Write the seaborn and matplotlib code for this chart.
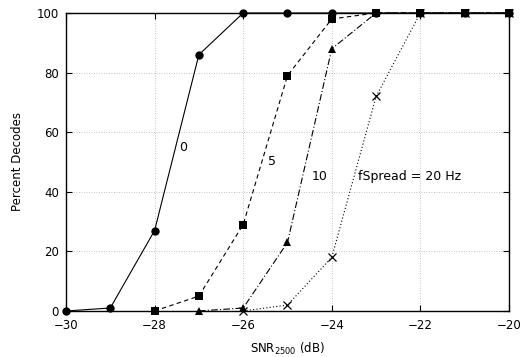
import pandas as pd
import seaborn as sns
import matplotlib.pyplot as plt

snr = [-30, -29, -28, -27, -26, -25, -24, -23, -22, -21, -20]

# percent decodes for each fSpread (None = no point)
pct_0 = [0, 1, 27, 86, 100, 100, 100, 100, 100, 100, 100]
pct_5 = [None, None, 0, 5, 29, 79, 98, 100, 100, 100, 100]
pct_10 = [None, None, None, 0, 1, 23, 88, 100, 100, 100, 100]
pct_20 = [None, None, None, None, 0, 2, 18, 72, 100, 100, 100]

series = [
    ('0', pct_0, 'o', '-', 6),
    ('5', pct_5, 's', (0, (4, 3)), 6),
    ('10', pct_10, '^', (0, (6, 2, 1, 2)), 5.5),
    ('20', pct_20, 'x', (0, (1, 2)), 5.5),
]

sns.set_style('ticks')
plt.rcParams['font.family'] = ['DejaVu Sans']
plt.rcParams['text.color'] = 'black'
plt.rcParams['axes.labelcolor'] = 'black'
plt.rcParams['xtick.color'] = 'black'
plt.rcParams['ytick.color'] = 'black'

fig = plt.figure(figsize=(5.25, 3.57), dpi=100)
ax = fig.add_axes([0.1257, 0.1289, 0.8438, 0.8347])

for nome, vals, mk, ls, ms in series:
    df = pd.DataFrame({'snr': snr, 'pct': vals}).dropna()
    sns.lineplot(data=df, x='snr', y='pct', ax=ax, color='black', lw=0.8,
                 linestyle=ls, marker=mk, markersize=ms, markeredgecolor='black',
                 markeredgewidth=0.9 if mk == 'x' else 0, clip_on=False, zorder=3)

ax.text(-27.45, 55, '0', fontsize=9, va='center')
ax.text(-25.45, 50, '5', fontsize=9, va='center')
ax.text(-24.45, 45, '10', fontsize=9, va='center')
ax.text(-23.4, 45, 'fSpread = 20 Hz', fontsize=9, va='center')

ax.set_xlim(-30, -20)
ax.set_ylim(0, 100)
ax.set_xticks(range(-30, -19, 2))
ax.set_yticks(range(0, 101, 20))
ax.grid(True, color='#b0b0b0', linestyle=(0, (1, 2)), lw=0.6)
ax.tick_params(direction='in', top=True, right=True, labelsize=8.5, length=4)
ax.tick_params(axis='x', pad=6)
ax.tick_params(axis='y', pad=5)
for s in ax.spines.values():
    s.set_linewidth(1)
    s.set_color('black')

ax.set_xlabel('SNR$_{2500}$ (dB)', fontsize=8.5, labelpad=6)
ax.set_ylabel('Percent Decodes', fontsize=8.5, labelpad=9)

plt.savefig('out.png', dpi=100)
